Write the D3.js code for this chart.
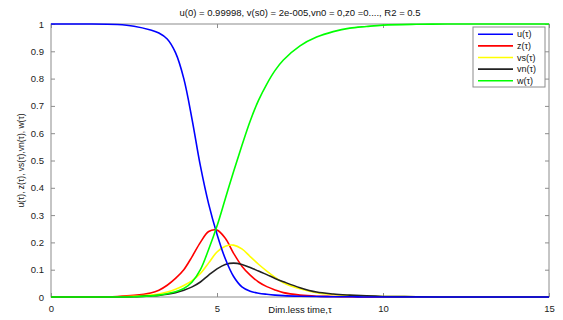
<!DOCTYPE html>
<html>
<head>
<meta charset="utf-8">
<script src="https://cdn.jsdelivr.net/npm/d3@7"></script>
<style>
  body { margin: 0; background: #fff; }
  svg { display: block; font-family: "Liberation Sans", Arial, sans-serif; }
</style>
</head>
<body>
<div id="chart"></div>
<script>
// time grid and the five series
const time = [0, 1, 2, 2.5, 3, 3.25, 3.5, 3.75, 4, 4.25, 4.5, 4.75, 5, 5.25, 5.5, 5.75, 6, 6.25, 6.5, 6.75, 7, 7.5, 8, 8.5, 9, 9.5, 10, 11, 12, 13, 14, 15];
const uVals = [1, 1, 0.998, 0.992, 0.978, 0.967, 0.945, 0.895, 0.8, 0.65, 0.48, 0.34, 0.23, 0.14, 0.075, 0.037, 0.021, 0.014, 0.01, 0.007, 0.005, 0.003, 0.002, 0.001, 0.001, 0, 0, 0, 0, 0, 0, 0];
const zVals = [0, 0, 0.002, 0.006, 0.015, 0.025, 0.043, 0.068, 0.1, 0.148, 0.2, 0.24, 0.245, 0.215, 0.16, 0.113, 0.08, 0.055, 0.038, 0.026, 0.016, 0.007, 0.003, 0.002, 0.001, 0, 0, 0, 0, 0, 0, 0];
const vsVals = [0, 0, 0.001, 0.003, 0.007, 0.011, 0.018, 0.028, 0.042, 0.06, 0.086, 0.125, 0.165, 0.186, 0.19, 0.176, 0.148, 0.12, 0.095, 0.072, 0.052, 0.03, 0.016, 0.009, 0.005, 0.003, 0.002, 0.001, 0, 0, 0, 0];
const vnVals = [0, 0, 0, 0.001, 0.004, 0.006, 0.01, 0.016, 0.025, 0.037, 0.055, 0.08, 0.103, 0.119, 0.124, 0.119, 0.108, 0.095, 0.082, 0.068, 0.056, 0.034, 0.018, 0.011, 0.007, 0.004, 0.002, 0.001, 0, 0, 0, 0];
const wVals = [0, 0, 0, 0.001, 0.004, 0.007, 0.012, 0.019, 0.031, 0.055, 0.1, 0.175, 0.26, 0.36, 0.46, 0.555, 0.645, 0.72, 0.78, 0.83, 0.868, 0.92, 0.952, 0.972, 0.985, 0.991, 0.996, 0.999, 1, 1, 1, 1];

const seriesNames = ["u(\u03c4)", "z(\u03c4)", "vs(\u03c4)", "vn(\u03c4)", "w(\u03c4)"];
const seriesColors = ["#0000ff", "#ff0000", "#ffff00", "#222222", "#00ff00"];
const seriesData = [uVals, zVals, vsVals, vnVals, wVals];
// draw order: blue above the other zero lines on the right, green on top
const drawOrder = [1, 2, 3, 0, 4];

const xTicks = [0, 5, 10, 15];
const yTicks = [0, 0.1, 0.2, 0.3, 0.4, 0.5, 0.6, 0.7, 0.8, 0.9, 1];

const titleText = "u(0) = 0.99998, v(s0) = 2e-005,vn0 = 0,z0 =0...., R2 = 0.5";
const xLabel = "Dim.less time,\u03c4";
const yLabel = "u(\u03c4), z(\u03c4), vs(\u03c4),vn(\u03c4), w(\u03c4)";

const WIDTH = 563;
const HEIGHT = 320;
const margin = { top: 24, right: 14, bottom: 23, left: 51 };
const innerW = WIDTH - margin.left - margin.right;
const innerH = HEIGHT - margin.top - margin.bottom;

const svg = d3.select("#chart")
  .append("svg")
  .attr("width", WIDTH)
  .attr("height", HEIGHT);

const g = svg.append("g")
  .attr("transform", "translate(" + margin.left + "," + margin.top + ")");

const x = d3.scaleLinear().domain([0, 15]).range([0, innerW]);
const y = d3.scaleLinear().domain([0, 1]).range([innerH, 0]);

//Frame
g.append("rect")
  .attr("width", innerW)
  .attr("height", innerH)
  .attr("fill", "none")
  .attr("stroke", "#8c8c8c")
  .attr("stroke-width", 1);

//Axes (ticks inside, MATLAB style)
const axisColor = "#8c8c8c";
const styleAxis = (sel) => {
  sel.select(".domain").remove();
  sel.selectAll(".tick line").attr("stroke", axisColor);
  sel.selectAll(".tick text")
    .attr("fill", "#222")
    .style("font-size", "9.5px");
};

g.append("g")
  .attr("transform", "translate(0," + innerH + ")")
  .call(d3.axisBottom(x).tickValues(xTicks).tickSize(-4).tickPadding(8).tickFormat(d3.format("d")))
  .call(styleAxis);

g.append("g")
  .call(d3.axisTop(x).tickValues(xTicks).tickSize(-4).tickFormat(""))
  .call(styleAxis);

g.append("g")
  .call(d3.axisLeft(y).tickValues(yTicks).tickSize(-4).tickPadding(7).tickFormat((d) => d === 0 || d === 1 ? d3.format("d")(d) : d3.format(".1f")(d)))
  .call(styleAxis);

g.append("g")
  .attr("transform", "translate(" + innerW + ",0)")
  .call(d3.axisRight(y).tickValues(yTicks).tickSize(-4).tickFormat(""))
  .call(styleAxis);

//Lines
const line = d3.line()
  .x((d) => x(d[0]))
  .y((d) => y(d[1]))
  .curve(d3.curveCatmullRom.alpha(0.5));

drawOrder.forEach((k) => {
  const pts = time.map((t, i) => [t, seriesData[k][i]]);
  g.append("path")
    .datum(pts)
    .attr("d", line)
    .attr("fill", "none")
    .attr("stroke", seriesColors[k])
    .attr("stroke-width", 1.6)
    .attr("stroke-linejoin", "round");
});

//Title and labels
svg.append("text")
  .attr("x", margin.left + innerW / 2)
  .attr("y", 16)
  .attr("text-anchor", "middle")
  .style("font-size", "9.5px")
  .attr("fill", "#111")
  .text(titleText);

svg.append("text")
  .attr("x", margin.left + innerW / 2)
  .attr("y", 313)
  .attr("text-anchor", "middle")
  .style("font-size", "9.5px")
  .attr("fill", "#111")
  .text(xLabel);

svg.append("text")
  .attr("transform", "translate(24," + (margin.top + innerH / 2) + ") rotate(-90)")
  .attr("text-anchor", "middle")
  .style("font-size", "8.5px")
  .attr("fill", "#111")
  .text(yLabel);

//Legend
const legend = svg.append("g").attr("transform", "translate(473,27)");
const legendRow = 11.6;

legend.append("rect")
  .attr("width", 72)
  .attr("height", 60)
  .attr("fill", "#fff")
  .attr("stroke", "#8c8c8c");

seriesNames.forEach((name, i) => {
  const ly = 7.3 + i * legendRow;
  legend.append("line")
    .attr("x1", 5).attr("x2", 40)
    .attr("y1", ly).attr("y2", ly)
    .attr("stroke", seriesColors[i])
    .attr("stroke-width", 1.6);
  legend.append("text")
    .attr("x", 44)
    .attr("y", ly + 3)
    .style("font-size", "9px")
    .attr("fill", "#111")
    .text(name);
});
</script>
</body>
</html>
